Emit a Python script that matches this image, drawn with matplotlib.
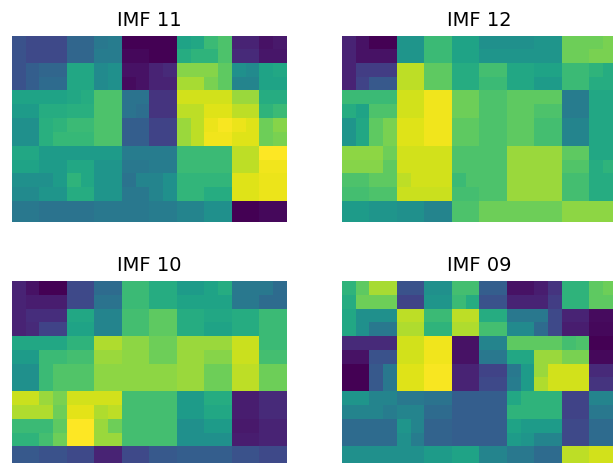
import numpy
from matplotlib import pyplot as plt

titles = ['IMF 11', 'IMF 12', 'IMF 10', 'IMF 09']

imf11 = [
    [0.25, 0.22, 0.22, 0.22, 0.33, 0.33, 0.40, 0.42, 0.00, 0.00, 0.00, 0.00, 0.58, 0.60, 0.68, 0.72, 0.10, 0.10, 0.05, 0.07],
    [0.25, 0.22, 0.22, 0.22, 0.33, 0.33, 0.42, 0.42, 0.02, 0.02, 0.00, 0.00, 0.62, 0.65, 0.65, 0.72, 0.12, 0.12, 0.06, 0.06],
    [0.25, 0.30, 0.33, 0.33, 0.60, 0.60, 0.48, 0.50, 0.05, 0.05, 0.10, 0.12, 0.82, 0.82, 0.82, 0.75, 0.50, 0.48, 0.58, 0.60],
    [0.25, 0.30, 0.35, 0.35, 0.60, 0.60, 0.48, 0.50, 0.03, 0.05, 0.10, 0.10, 0.87, 0.87, 0.80, 0.75, 0.45, 0.45, 0.58, 0.58],
    [0.58, 0.58, 0.58, 0.58, 0.60, 0.62, 0.72, 0.72, 0.38, 0.38, 0.15, 0.15, 0.93, 0.93, 0.93, 0.93, 0.85, 0.85, 0.62, 0.62],
    [0.55, 0.55, 0.62, 0.62, 0.63, 0.63, 0.72, 0.72, 0.38, 0.36, 0.15, 0.15, 0.90, 0.90, 0.95, 0.95, 0.90, 0.90, 0.65, 0.68],
    [0.50, 0.50, 0.63, 0.65, 0.68, 0.68, 0.72, 0.72, 0.30, 0.30, 0.20, 0.20, 0.85, 0.90, 0.97, 0.99, 0.97, 0.95, 0.78, 0.82],
    [0.50, 0.50, 0.63, 0.67, 0.67, 0.67, 0.72, 0.72, 0.30, 0.30, 0.20, 0.20, 0.85, 0.90, 0.98, 0.98, 0.95, 0.95, 0.78, 0.80],
    [0.60, 0.60, 0.55, 0.55, 0.55, 0.55, 0.55, 0.55, 0.42, 0.42, 0.42, 0.42, 0.68, 0.68, 0.68, 0.68, 0.90, 0.90, 1.00, 1.00],
    [0.58, 0.58, 0.55, 0.55, 0.60, 0.60, 0.52, 0.52, 0.40, 0.40, 0.42, 0.42, 0.68, 0.68, 0.68, 0.68, 0.90, 0.90, 0.98, 0.98],
    [0.50, 0.50, 0.50, 0.55, 0.65, 0.60, 0.52, 0.52, 0.38, 0.45, 0.45, 0.50, 0.66, 0.66, 0.66, 0.66, 0.95, 0.95, 0.97, 0.97],
    [0.48, 0.48, 0.52, 0.52, 0.62, 0.62, 0.52, 0.52, 0.40, 0.40, 0.45, 0.50, 0.66, 0.66, 0.62, 0.62, 0.95, 0.95, 0.97, 0.97],
    [0.40, 0.40, 0.38, 0.38, 0.38, 0.38, 0.40, 0.40, 0.40, 0.40, 0.42, 0.42, 0.45, 0.45, 0.50, 0.50, 0.00, 0.00, 0.02, 0.02],
    [0.40, 0.40, 0.38, 0.38, 0.38, 0.38, 0.40, 0.40, 0.40, 0.40, 0.42, 0.42, 0.45, 0.45, 0.50, 0.50, 0.00, 0.00, 0.02, 0.02],
]

imf12 = [
    [0.10, 0.05, 0.00, 0.00, 0.52, 0.52, 0.68, 0.68, 0.58, 0.58, 0.50, 0.50, 0.50, 0.50, 0.52, 0.52, 0.78, 0.78, 0.78, 0.80],
    [0.10, 0.05, 0.05, 0.05, 0.52, 0.52, 0.68, 0.68, 0.58, 0.58, 0.52, 0.52, 0.52, 0.52, 0.52, 0.52, 0.78, 0.78, 0.80, 0.80],
    [0.10, 0.18, 0.18, 0.18, 0.90, 0.90, 0.75, 0.75, 0.62, 0.62, 0.70, 0.70, 0.60, 0.60, 0.58, 0.58, 0.68, 0.68, 0.65, 0.62],
    [0.10, 0.20, 0.28, 0.28, 0.90, 0.90, 0.75, 0.75, 0.62, 0.62, 0.68, 0.68, 0.60, 0.60, 0.55, 0.55, 0.68, 0.68, 0.62, 0.62],
    [0.68, 0.68, 0.68, 0.68, 0.93, 0.93, 0.98, 0.98, 0.78, 0.78, 0.72, 0.72, 0.75, 0.75, 0.75, 0.75, 0.42, 0.42, 0.60, 0.60],
    [0.62, 0.58, 0.72, 0.72, 0.93, 0.93, 0.98, 0.98, 0.78, 0.78, 0.72, 0.72, 0.75, 0.75, 0.72, 0.72, 0.42, 0.42, 0.60, 0.60],
    [0.52, 0.60, 0.75, 0.80, 0.95, 0.95, 0.98, 0.98, 0.75, 0.75, 0.72, 0.72, 0.75, 0.75, 0.70, 0.70, 0.45, 0.45, 0.60, 0.60],
    [0.52, 0.60, 0.75, 0.80, 0.95, 0.95, 0.98, 0.98, 0.75, 0.75, 0.72, 0.72, 0.75, 0.75, 0.70, 0.70, 0.45, 0.45, 0.60, 0.60],
    [0.83, 0.83, 0.83, 0.78, 0.93, 0.93, 0.93, 0.93, 0.72, 0.72, 0.72, 0.72, 0.85, 0.85, 0.85, 0.85, 0.75, 0.75, 0.60, 0.60],
    [0.82, 0.82, 0.82, 0.75, 0.93, 0.93, 0.93, 0.93, 0.72, 0.72, 0.72, 0.72, 0.85, 0.85, 0.85, 0.85, 0.73, 0.73, 0.62, 0.65],
    [0.72, 0.72, 0.75, 0.75, 0.90, 0.93, 0.93, 0.93, 0.68, 0.72, 0.72, 0.72, 0.85, 0.85, 0.85, 0.85, 0.70, 0.70, 0.62, 0.62],
    [0.70, 0.70, 0.72, 0.72, 0.92, 0.92, 0.92, 0.92, 0.70, 0.70, 0.72, 0.72, 0.85, 0.85, 0.85, 0.85, 0.70, 0.70, 0.62, 0.62],
    [0.55, 0.55, 0.52, 0.52, 0.50, 0.50, 0.45, 0.45, 0.72, 0.72, 0.78, 0.78, 0.78, 0.78, 0.78, 0.78, 0.83, 0.83, 0.83, 0.83],
    [0.55, 0.55, 0.52, 0.52, 0.50, 0.50, 0.45, 0.45, 0.72, 0.72, 0.78, 0.78, 0.78, 0.78, 0.78, 0.78, 0.83, 0.83, 0.83, 0.83],
]

imf10 = [
    [0.10, 0.05, 0.00, 0.00, 0.22, 0.22, 0.35, 0.35, 0.68, 0.68, 0.62, 0.62, 0.55, 0.55, 0.58, 0.62, 0.40, 0.40, 0.40, 0.35],
    [0.10, 0.08, 0.08, 0.08, 0.22, 0.22, 0.38, 0.38, 0.68, 0.68, 0.62, 0.62, 0.58, 0.58, 0.58, 0.58, 0.40, 0.40, 0.35, 0.35],
    [0.10, 0.13, 0.13, 0.13, 0.60, 0.60, 0.45, 0.45, 0.70, 0.70, 0.75, 0.75, 0.62, 0.62, 0.60, 0.60, 0.62, 0.62, 0.68, 0.68],
    [0.10, 0.12, 0.20, 0.20, 0.58, 0.58, 0.45, 0.45, 0.70, 0.70, 0.75, 0.75, 0.62, 0.62, 0.58, 0.58, 0.62, 0.62, 0.68, 0.68],
    [0.60, 0.60, 0.60, 0.60, 0.65, 0.65, 0.88, 0.88, 0.83, 0.83, 0.78, 0.78, 0.85, 0.85, 0.85, 0.85, 0.92, 0.92, 0.68, 0.68],
    [0.55, 0.55, 0.68, 0.68, 0.70, 0.70, 0.85, 0.85, 0.83, 0.83, 0.78, 0.78, 0.85, 0.85, 0.82, 0.82, 0.92, 0.92, 0.70, 0.70],
    [0.50, 0.50, 0.68, 0.73, 0.73, 0.73, 0.83, 0.83, 0.83, 0.83, 0.83, 0.83, 0.85, 0.85, 0.78, 0.78, 0.90, 0.90, 0.78, 0.78],
    [0.50, 0.50, 0.68, 0.73, 0.73, 0.73, 0.83, 0.83, 0.83, 0.83, 0.83, 0.83, 0.85, 0.85, 0.78, 0.78, 0.90, 0.90, 0.78, 0.78],
    [0.92, 0.92, 0.85, 0.80, 0.93, 0.93, 0.93, 0.93, 0.70, 0.70, 0.70, 0.70, 0.55, 0.55, 0.62, 0.62, 0.08, 0.08, 0.12, 0.12],
    [0.88, 0.88, 0.88, 0.78, 0.96, 0.96, 0.88, 0.90, 0.70, 0.70, 0.70, 0.70, 0.55, 0.55, 0.60, 0.60, 0.08, 0.08, 0.12, 0.12],
    [0.68, 0.68, 0.68, 0.75, 1.00, 1.00, 0.85, 0.78, 0.70, 0.70, 0.70, 0.70, 0.50, 0.50, 0.55, 0.55, 0.07, 0.07, 0.10, 0.10],
    [0.65, 0.65, 0.70, 0.78, 1.00, 1.00, 0.85, 0.85, 0.70, 0.70, 0.70, 0.70, 0.50, 0.50, 0.50, 0.50, 0.08, 0.08, 0.10, 0.10],
    [0.28, 0.28, 0.25, 0.25, 0.22, 0.22, 0.10, 0.10, 0.22, 0.22, 0.28, 0.28, 0.30, 0.30, 0.30, 0.30, 0.25, 0.25, 0.22, 0.22],
    [0.28, 0.28, 0.25, 0.25, 0.22, 0.22, 0.10, 0.10, 0.22, 0.22, 0.28, 0.28, 0.30, 0.30, 0.30, 0.30, 0.25, 0.25, 0.22, 0.22],
]

imf09 = [
    [0.65, 0.75, 0.87, 0.87, 0.25, 0.25, 0.50, 0.50, 0.70, 0.70, 0.30, 0.30, 0.05, 0.05, 0.08, 0.15, 0.65, 0.65, 0.75, 0.78],
    [0.62, 0.78, 0.78, 0.78, 0.20, 0.20, 0.52, 0.52, 0.68, 0.62, 0.25, 0.25, 0.10, 0.10, 0.10, 0.18, 0.65, 0.65, 0.75, 0.75],
    [0.60, 0.50, 0.50, 0.50, 0.90, 0.90, 0.68, 0.68, 0.90, 0.90, 0.62, 0.62, 0.40, 0.40, 0.40, 0.22, 0.10, 0.10, 0.03, 0.03],
    [0.60, 0.50, 0.40, 0.40, 0.88, 0.88, 0.65, 0.65, 0.88, 0.88, 0.70, 0.70, 0.48, 0.48, 0.35, 0.22, 0.08, 0.08, 0.02, 0.02],
    [0.12, 0.12, 0.12, 0.12, 0.93, 0.93, 0.98, 0.98, 0.05, 0.05, 0.45, 0.45, 0.75, 0.75, 0.75, 0.75, 0.70, 0.72, 0.00, 0.00],
    [0.05, 0.05, 0.25, 0.25, 0.93, 0.93, 0.98, 0.98, 0.05, 0.05, 0.40, 0.40, 0.60, 0.60, 0.85, 0.85, 0.80, 0.80, 0.02, 0.02],
    [0.00, 0.00, 0.28, 0.40, 0.95, 0.95, 0.99, 0.99, 0.10, 0.10, 0.20, 0.20, 0.40, 0.55, 0.85, 0.93, 0.93, 0.93, 0.12, 0.12],
    [0.00, 0.00, 0.28, 0.40, 0.95, 0.95, 0.99, 0.99, 0.10, 0.10, 0.22, 0.22, 0.42, 0.55, 0.88, 0.93, 0.93, 0.93, 0.15, 0.15],
    [0.52, 0.52, 0.45, 0.45, 0.40, 0.40, 0.38, 0.38, 0.30, 0.30, 0.30, 0.30, 0.60, 0.65, 0.65, 0.65, 0.20, 0.20, 0.45, 0.45],
    [0.45, 0.45, 0.45, 0.42, 0.45, 0.45, 0.35, 0.35, 0.30, 0.30, 0.30, 0.30, 0.65, 0.65, 0.65, 0.65, 0.20, 0.20, 0.40, 0.40],
    [0.35, 0.35, 0.35, 0.35, 0.52, 0.45, 0.32, 0.32, 0.30, 0.30, 0.30, 0.30, 0.58, 0.55, 0.55, 0.55, 0.22, 0.22, 0.35, 0.35],
    [0.35, 0.35, 0.35, 0.35, 0.50, 0.42, 0.32, 0.32, 0.30, 0.30, 0.30, 0.30, 0.55, 0.52, 0.45, 0.45, 0.22, 0.22, 0.35, 0.35],
    [0.50, 0.50, 0.50, 0.50, 0.50, 0.50, 0.55, 0.55, 0.58, 0.58, 0.45, 0.45, 0.40, 0.40, 0.35, 0.35, 0.90, 0.90, 0.93, 0.93],
    [0.50, 0.50, 0.50, 0.50, 0.50, 0.50, 0.55, 0.55, 0.58, 0.58, 0.45, 0.45, 0.40, 0.40, 0.35, 0.35, 0.90, 0.90, 0.93, 0.93],
]

W, H = 613, 463
fig = plt.figure(figsize=(W / 100, H / 100), dpi=100)

# panel boxes in pixels: left, top (from image top)
boxes = [(12, 36), (342, 36), (12, 281), (342, 281)]
pw, ph = 275, 186

for title, grid, (left, top) in zip(titles, [imf11, imf12, imf10, imf09], boxes):
    ax = fig.add_axes([left / W, (H - top - ph) / H, pw / W, ph / H])
    ax.imshow(numpy.array(grid), cmap='viridis', vmin=0, vmax=1,
              aspect='auto', interpolation='nearest')
    ax.set_ylim(13.0, -0.5)
    ax.set_xlim(-0.5, 19.5)
    ax.set_title(title, fontsize=14, pad=7)
    ax.axis('off')

plt.savefig('out.png', dpi=100)
